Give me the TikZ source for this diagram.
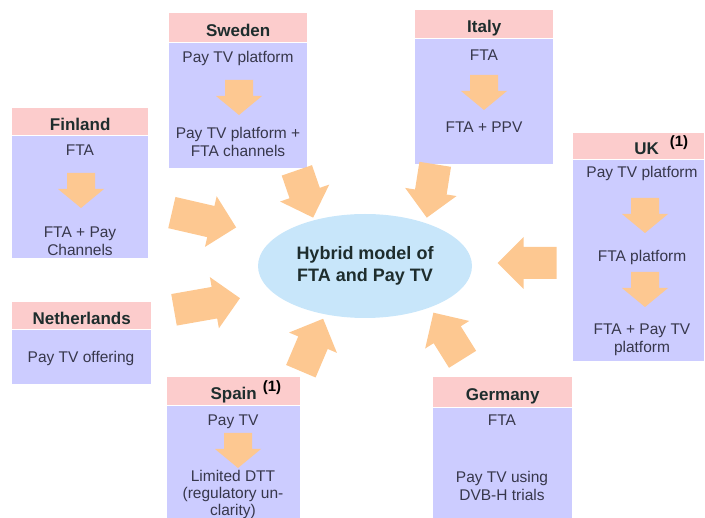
\documentclass[tikz,border=0pt]{standalone}
\usepackage{fontspec}
\setmainfont{Liberation Sans}
\usetikzlibrary{shapes.geometric,positioning}

\definecolor{headpink}{RGB}{252,204,204}
\definecolor{bodylilac}{RGB}{204,204,255}
\definecolor{arrowfill}{RGB}{253,200,145}
\definecolor{hybridblue}{RGB}{200,230,250}
\definecolor{txtgrey}{RGB}{55,55,75}
\definecolor{titlegrey}{RGB}{30,45,45}

\tikzset{
  headbox/.style={fill=headpink,inner sep=0pt,anchor=north west,text=titlegrey,
    text height=17pt,text depth=0pt,font=\bfseries\fontsize{17}{20}\selectfont},
  bodybox/.style={fill=bodylilac,inner sep=0pt},
  txt/.style={text=txtgrey,align=center,inner sep=0pt,font=\fontsize{15.5}{18.5}\selectfont},
  note/.style={text=black,inner sep=0pt,font=\bfseries\fontsize{15}{17}\selectfont},
  pics/fatarrow/.style={code={
    \fill[arrowfill] (-#1/2,-16) -- (#1/2-26,-16) -- (#1/2-26,-26) -- (#1/2,0)
      -- (#1/2-26,26) -- (#1/2-26,16) -- (-#1/2,16) -- cycle;}},
  pics/downarr/.style={code={
    \fill[arrowfill] (-14,0) -- (14,0) -- (14,16) -- (23,16) -- (0,35)
      -- (-23,16) -- (-14,16) -- cycle;}}
}

\begin{document}
\begin{tikzpicture}[x=1pt,y=-1pt]
\useasboundingbox (0,0) rectangle (705,518);

% country boxes: header + body
\foreach \n/\lbl/\x/\y/\w/\hh/\bh in {
  fin/Finland/12/108/136/27/122,
  swe/Sweden/169/13/138/29/125,
  ita/Italy/415/10/138/28/125,
  uk/{\hspace{16pt}UK}/573/133/131/26/201,
  ned/Netherlands/12/302/139/27/54,
  spa/Spain/167/377/133/28/113,
  ger/Germany/433/377/139/30/111}
{
  \node[headbox,minimum width=\w,minimum height=\hh] (\n h) at (\x,\y) {\lbl};
  \node[bodybox,minimum width=\w,minimum height=\bh,below=0pt of \n h] (\n b) {};
}

\node[note] (ukn) at (679,143) {(1)};
\node[note] (span) at (272,388) {(1)};

% Finland
\node[txt] (fin1) at (80,150) {FTA};
\node[txt] (fin2) at (80,241) {FTA + Pay\\Channels};
\pic at (81,173) {downarr};

% Sweden
\node[txt] (swe1) at (238,58) {Pay TV platform};
\node[txt] (swe2) at (238,142) {Pay TV platform +\\FTA channels};
\pic at (239,80) {downarr};

% Italy
\node[txt] (ita1) at (484,55) {FTA};
\node[txt] (ita2) at (484,127) {FTA + PPV};
\pic at (484,75) {downarr};

% UK
\node[txt] (uk1) at (642,173) {Pay TV platform};
\node[txt] (uk2) at (642,257) {FTA platform};
\node[txt] (uk3) at (642,340) {FTA + Pay TV\\platform};
\pic at (645,198) {downarr};
\pic at (645,272) {downarr};

% Netherlands
\node[txt] (ned1) at (81,358) {Pay TV offering};

% Spain
\node[txt] (spa1) at (233,422) {Pay TV};
\node[txt,font=\fontsize{15.5}{17}\selectfont] (spa2) at (233,494) {Limited DTT\\(regulatory un-\\clarity)};
\pic at (238,433) {downarr};

% Germany
\node[txt] (ger1) at (502,420) {FTA};
\node[txt] (ger2) at (502,486) {Pay TV using\\DVB-H trials};

% centre
\node[ellipse,fill=hybridblue,minimum width=214,minimum height=104,inner sep=0pt,
  align=center,text=titlegrey,font=\bfseries\fontsize{18}{21.5}\selectfont]
  (hybrid) at (365,266) {Hybrid model of\\FTA and Pay TV};

% arrows into the centre
\foreach \n/\x/\y/\ang/\len in {fin/204/220/-13/66, ned/207/304/10/67,
  swe/305/194/-71/50, ita/431/191/-99/54, uk/527/263/180/59,
  spa/312/345/67/57, ger/448/336/122/55}
  \pic[rotate=\ang] (\n arr) at (\x,\y) {fatarrow=\len};

\end{tikzpicture}
\end{document}
